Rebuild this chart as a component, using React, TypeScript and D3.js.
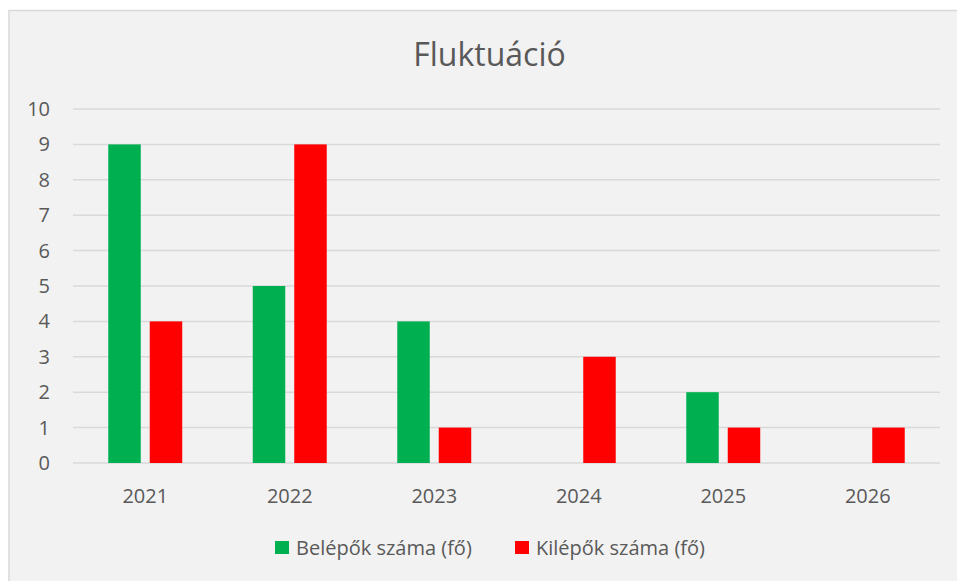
import React from "react";
import * as d3 from "d3";

const years = ["2021", "2022", "2023", "2024", "2025", "2026"];
const belepok = [9, 5, 4, 0, 2, 0];
const kilepok = [4, 9, 1, 3, 1, 1];
const seriesNames = ["Belépők száma (fő)", "Kilépők száma (fő)"];
const seriesColors = ["#00b050", "#ff0000"];
const yTicks = [0, 1, 2, 3, 4, 5, 6, 7, 8, 9, 10];

const W = 957;
const H = 581;
const font = "'Open Sans', Lato, sans-serif";

export default function App() {
  const x = d3.scaleBand<string>().domain(years).range([73, 940]).padding(0);
  const xs = d3
    .scaleBand<number>()
    .domain([0, 1])
    .range([0, x.step()])
    .paddingInner(0.217)
    .paddingOuter(0.85);
  const y = d3.scaleLinear().domain([0, 10]).range([463, 109]);
  const series = [belepok, kilepok];

  return (
    <svg
      width={W}
      height={H}
      style={{ position: "absolute", left: 0, top: 0 }}
      fontFamily={font}
    >
      <rect x={0} y={0} width={W} height={H} fill="#ffffff" />
      <rect
        x={9}
        y={10.5}
        width={W + 20}
        height={H + 20}
        fill="#f2f2f2"
        stroke="#d9d9d9"
        strokeWidth={1.5}
      />
      <text x={489.5} y={66} textAnchor="middle" fontSize={32} fill="#595959">
        Fluktuáció
      </text>
      {yTicks.map((t) => (
        <g key={t}>
          <line x1={73} x2={940} y1={y(t)} y2={y(t)} stroke="#d9d9d9" strokeWidth={1.5} />
          <text x={50} y={y(t) + 7} textAnchor="end" fontSize={20} fill="#595959">
            {t}
          </text>
        </g>
      ))}
      {years.map((yr, i) => (
        <g key={yr} transform={`translate(${x(yr)},0)`}>
          {series.map((s, j) =>
            s[i] > 0 ? (
              <rect
                key={j}
                x={xs(j)}
                y={y(s[i])}
                width={xs.bandwidth()}
                height={y(0) - y(s[i])}
                fill={seriesColors[j]}
              />
            ) : null
          )}
          <text
            x={x.bandwidth() / 2}
            y={502.5}
            textAnchor="middle"
            fontSize={20}
            fill="#595959"
          >
            {yr}
          </text>
        </g>
      ))}
      {seriesNames.map((n, j) => {
        const lx = j === 0 ? 275 : 515;
        return (
          <g key={n}>
            <rect x={lx} y={541} width={14} height={13} fill={seriesColors[j]} />
            <text x={lx + 21} y={555} fontSize={20} fill="#595959">
              {n}
            </text>
          </g>
        );
      })}
    </svg>
  );
}
